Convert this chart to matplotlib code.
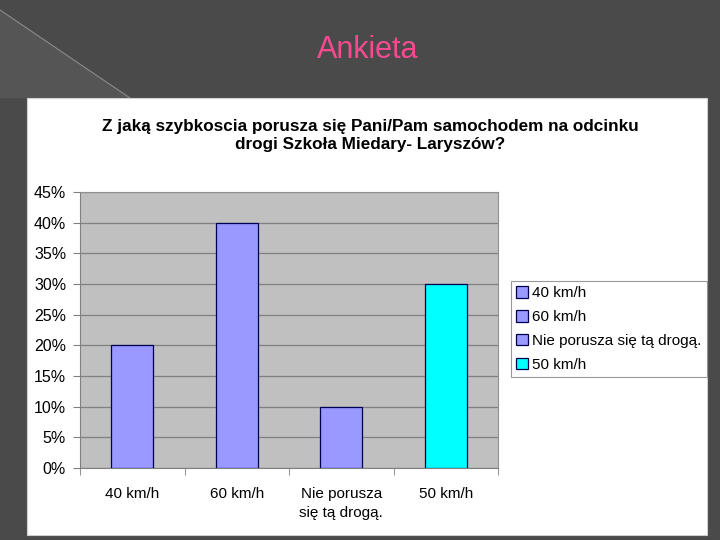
import numpy as np
import matplotlib.pyplot as plt
from matplotlib.patches import Rectangle, Polygon
from matplotlib.ticker import FuncFormatter

plt.rcParams['font.family'] = ['Liberation Sans', 'DejaVu Sans']

# --- dane ---
categories = ["40 km/h", "60 km/h", "Nie porusza\nsię tą drogą.", "50 km/h"]
legend_labels = ["40 km/h", "60 km/h", "Nie porusza się tą drogą.", "50 km/h"]
values = [0.20, 0.40, 0.10, 0.30]
colors = ["#9999FF", "#9999FF", "#9999FF", "#00FFFF"]

W, H = 720, 540
fig = plt.figure(figsize=(7.2, 5.4), dpi=100)
fig.patch.set_facecolor("#4a4a4a")

# tlo slajdu (lekko jasniejszy trojkat po lewej)
fig.patches.append(Polygon([(0, 1 - 10 / H), (130 / W, 1 - 98 / H), (0, 1 - 98 / H)],
                           closed=True, transform=fig.transFigure,
                           facecolor="#555555", edgecolor="none", zorder=0))
fig.lines.append(plt.Line2D([0, 130 / W], [1 - 10 / H, 1 - 98 / H], transform=fig.transFigure,
                            color="#8a8a8a", lw=0.8, zorder=1))

# bialy panel wykresu
fig.patches.append(Rectangle((27 / W, 1 - 535 / H), (707 - 27) / W, (535 - 98) / H,
                             transform=fig.transFigure, facecolor="white",
                             edgecolor="#d0d0d0", lw=0.8, zorder=2))

fig.text(368 / W, 1 - 50 / H, "Ankieta", color="#F84A90", fontsize=22,
         ha="center", va="center")

fig.text(370 / W, 1 - 135 / H,
         "Z jaką szybkoscia porusza się Pani/Pam samochodem na odcinku\ndrogi Szkoła Miedary- Laryszów?",
         ha="center", va="center", fontsize=12.3, fontweight="bold", linespacing=1.25,
         zorder=5)

# --- wykres ---
ax = fig.add_axes([80 / W, 1 - 468 / H, 418 / W, 276 / H], zorder=3)
ax.set_facecolor("#C0C0C0")
x = np.arange(len(categories))
bars = ax.bar(x, values, width=0.4, color=colors, edgecolor="#000050", linewidth=0.9, zorder=3)
ax.set_xlim(-0.5, len(categories) - 0.5)
ax.set_ylim(0, 0.45)
ax.set_yticks(np.arange(0, 0.451, 0.05))
ax.yaxis.set_major_formatter(FuncFormatter(lambda v, p: f"{v * 100:.0f}%"))
ax.grid(axis="y", color="#808080", lw=0.9, zorder=1)
ax.set_axisbelow(True)

ax.set_xticks(x)
ax.set_xticklabels(categories, fontsize=11, linespacing=1.4)
ax.set_xticks(np.arange(-0.5, len(categories), 1), minor=True)
ax.tick_params(axis="x", which="major", length=0, pad=14)
ax.tick_params(axis="x", which="minor", length=5, color="#808080", direction="out")
ax.tick_params(axis="y", length=5, color="#808080", labelsize=11.5, pad=5)

for s in ["top", "right"]:
    ax.spines[s].set_color("#909090")
for s in ["left", "bottom"]:
    ax.spines[s].set_color("#808080")

leg = fig.legend(bars, legend_labels, loc="upper left",
                 bbox_to_anchor=(511 / W, 1 - 281 / H), fontsize=11,
                 frameon=True, fancybox=False, handlelength=0.75, handleheight=0.75,
                 handletextpad=0.3, labelspacing=0.65, borderpad=0.35,
                 borderaxespad=0)
leg.get_frame().set_edgecolor("#808080")
leg.get_frame().set_linewidth(0.8)
leg.set_zorder(6)

fig.savefig("out.png", dpi=100, facecolor=fig.get_facecolor())
